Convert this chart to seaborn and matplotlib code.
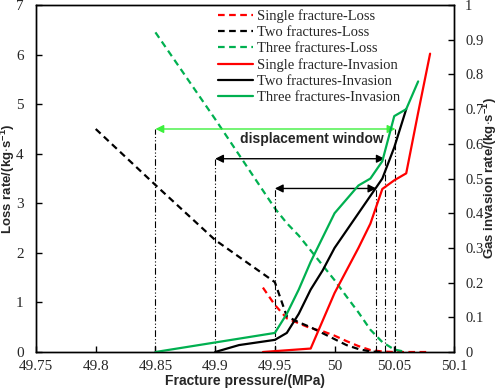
import matplotlib
matplotlib.use("Agg")
import matplotlib.pyplot as plt
import seaborn as sns
from matplotlib.ticker import FormatStrFormatter, MultipleLocator

# Loss rate (left axis, kg/s)
p_single_loss = [49.94, 49.95, 49.96, 49.97, 49.98, 49.99, 50.0, 50.01, 50.02, 50.03, 50.04, 50.05, 50.06, 50.07, 50.08]
single_loss = [1.3, 0.95, 0.68, 0.58, 0.48, 0.42, 0.33, 0.22, 0.12, 0.04, 0.01, 0, 0, 0, 0]

p_two_loss = [49.8, 49.85, 49.9, 49.95, 49.96, 49.97, 49.98, 49.99, 50.0, 50.01, 50.02, 50.03, 50.04]
two_loss = [4.5, 3.37, 2.26, 1.41, 0.72, 0.6, 0.5, 0.38, 0.26, 0.14, 0.06, 0.01, 0]

p_three_loss = [49.85, 49.9, 49.95, 49.96, 49.97, 49.98, 49.99, 50.0, 50.01, 50.02, 50.03, 50.04, 50.05, 50.06]
three_loss = [6.45, 4.7, 2.9, 2.6, 2.35, 2.05, 1.75, 1.45, 1.12, 0.8, 0.45, 0.2, 0.05, 0]

# Gas invasion rate (right axis, kg/s)
p_single_inv = [49.94, 49.98, 49.99, 50.0, 50.01, 50.02, 50.03, 50.04, 50.05, 50.06, 50.07, 50.08]
single_inv = [0, 0.01, 0.09, 0.17, 0.235, 0.3, 0.37, 0.47, 0.495, 0.515, 0.69, 0.86]

p_two_inv = [49.9, 49.92, 49.95, 49.96, 49.97, 49.98, 49.99, 50.0, 50.01, 50.02, 50.03, 50.04, 50.05, 50.06]
two_inv = [0, 0.02, 0.035, 0.055, 0.11, 0.18, 0.235, 0.3, 0.35, 0.4, 0.45, 0.5, 0.59, 0.7]

p_three_inv = [49.85, 49.95, 49.96, 49.97, 49.98, 49.99, 50.0, 50.01, 50.02, 50.03, 50.04, 50.05, 50.06, 50.07]
three_inv = [0, 0.055, 0.11, 0.18, 0.26, 0.33, 0.4, 0.44, 0.48, 0.5, 0.55, 0.68, 0.7, 0.78]

# displacement windows (start, end, height on loss axis)
win_start = [49.85, 49.9, 49.95]
win_end = [50.051, 50.042, 50.035]
win_level = [4.5, 3.9, 3.3]
win_color = ["#3cf03c", "black", "black"]

sns.set_style("white")
plt.rcParams["font.family"] = ["Liberation Serif", "DejaVu Serif"]
plt.rcParams["mathtext.fontset"] = "custom"
plt.rcParams["mathtext.rm"] = "Liberation Sans:bold"
plt.rcParams["mathtext.bf"] = "Liberation Sans:bold"

fig, ax = plt.subplots(figsize=(4.98, 3.92), dpi=100)
fig.subplots_adjust(left=0.0723, right=0.9116, bottom=0.102, top=0.987)
ax2 = ax.twinx()

lw = 1.6
dash = (0, (3, 2))
sns.lineplot(x=p_single_loss, y=single_loss, ax=ax, color="#ff0000", lw=lw, linestyle=dash, label="Single fracture-Loss")
sns.lineplot(x=p_two_loss, y=two_loss, ax=ax, color="black", lw=lw, linestyle=dash, label="Two fractures-Loss")
sns.lineplot(x=p_three_loss, y=three_loss, ax=ax, color="#00b050", lw=lw, linestyle=dash, label="Three fractures-Loss")
sns.lineplot(x=p_single_inv, y=single_inv, ax=ax2, color="#ff0000", lw=lw, label="Single fracture-Invasion")
sns.lineplot(x=p_two_inv, y=two_inv, ax=ax2, color="black", lw=lw, label="Two fractures-Invasion")
sns.lineplot(x=p_three_inv, y=three_inv, ax=ax2, color="#00b050", lw=lw, label="Three fractures-Invasion")

# window markers
vline_style = (0, (6, 2, 1, 2, 1, 2))
ax.vlines(win_start + win_end, 0, win_level + win_level, colors="black", lw=0.8, linestyles=[vline_style])
for x0, x1, y, c in zip(win_start, win_end, win_level, win_color):
    ax.annotate("", xy=(x0, y), xytext=(x1, y),
                arrowprops=dict(arrowstyle="<|-|>", color=c, lw=1.0, shrinkA=0, shrinkB=0,
                                mutation_scale=12))
ax.text(49.981, 4.3, "displacement window", ha="center", va="center",
        fontsize=10, fontweight="bold", family="Liberation Sans")

ax.set_xlim(49.75, 50.1)
ax.set_ylim(0, 7)
ax2.set_ylim(0, 1)
ax.xaxis.set_major_locator(MultipleLocator(0.05))
ax.xaxis.set_major_formatter(FormatStrFormatter("%g"))
ax.yaxis.set_major_locator(MultipleLocator(1))
ax2.yaxis.set_major_locator(MultipleLocator(0.1))
ax2.yaxis.set_major_formatter(FormatStrFormatter("%g"))

for a in (ax, ax2):
    a.tick_params(direction="in", length=4, width=1, pad=8, labelsize=11, color="black")
    for s in a.spines.values():
        s.set_color("black")
        s.set_linewidth(1.0)
ax.tick_params(axis="x", bottom=True, pad=6)
ax.tick_params(axis="y", left=True, pad=9)
ax2.tick_params(axis="y", right=True, pad=8, labelsize=10.5)

lab_kw = dict(fontsize=10, fontweight="bold", family="Liberation Sans")
ax.set_xlabel("Fracture pressure/(MPa)", **lab_kw)
ax.set_ylabel(r"Loss rate/(kg$\cdot$s$^{-1}$)", fontsize=9.5, fontweight="bold", family="Liberation Sans")
ax2.set_ylabel(r"Gas invasion rate/(kg$\cdot$s$^{-1}$)", rotation=90,
               fontsize=9.5, fontweight="bold", family="Liberation Sans")
ax.xaxis.set_label_coords(0.5, -0.063)
ax.yaxis.set_label_coords(-0.046, 0.5)
ax2.yaxis.set_label_coords(1.063, 0.5)

ax.get_legend().remove()
h1, l1 = ax.get_legend_handles_labels()
h2, l2 = ax2.get_legend_handles_labels()
ax2.get_legend().remove()
ax2.legend(h1 + h2, l1 + l2, loc="upper left", bbox_to_anchor=(0.432, 0.993),
           frameon=False, fontsize=10.5, handlelength=2.4, handletextpad=0.3,
           labelspacing=0.2, borderpad=0, borderaxespad=0.1)

fig.savefig("out.png", dpi=100)
